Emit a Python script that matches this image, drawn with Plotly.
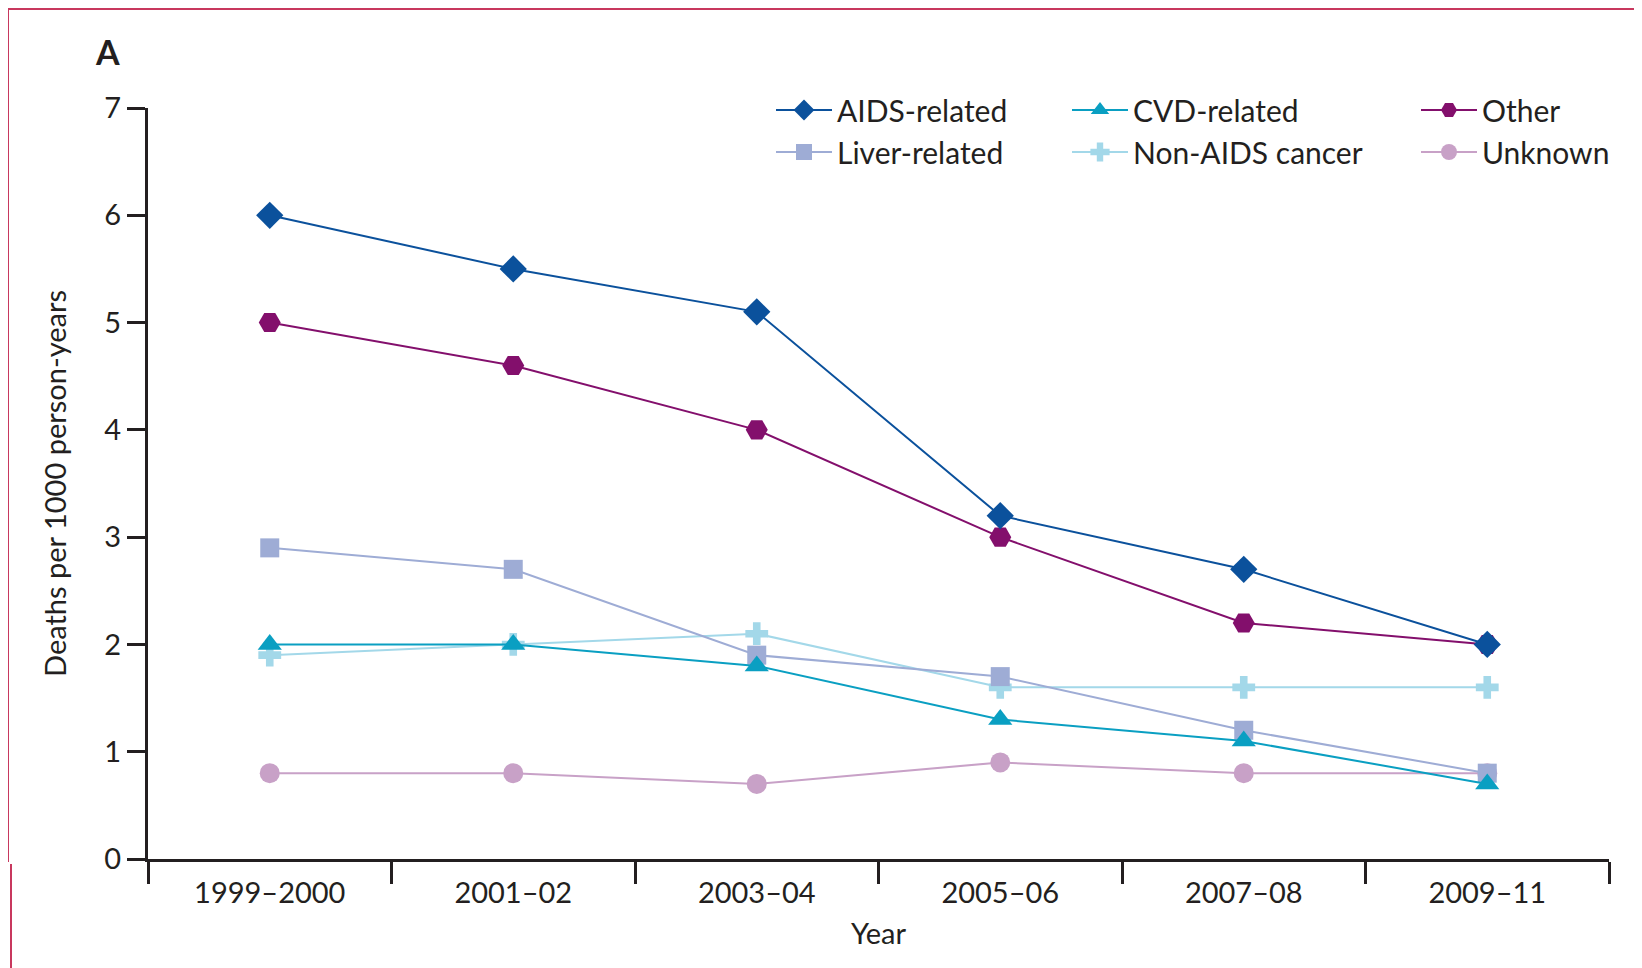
import plotly.graph_objects as go

periods = ["1999–2000", "2001–02", "2003–04", "2005–06", "2007–08", "2009–11"]

aids_related = [6.0, 5.5, 5.1, 3.2, 2.7, 2.0]
cvd_related = [2.0, 2.0, 1.8, 1.3, 1.1, 0.7]
other = [5.0, 4.6, 4.0, 3.0, 2.2, 2.0]
liver_related = [2.9, 2.7, 1.9, 1.7, 1.2, 0.8]
non_aids_cancer = [1.9, 2.0, 2.1, 1.6, 1.6, 1.6]
unknown = [0.8, 0.8, 0.7, 0.9, 0.8, 0.8]

OFF = 8  # page body margin
W, H = 1642 - OFF, 968 - OFF
# plot area in reference pixel coordinates
X0, X1, Y0, Y1 = 148, 1609, 108, 859
L, T = X0 - OFF, Y0 - OFF
R, B = W - (X1 - OFF), H - (Y1 - OFF)
PW, PH = W - L - R, H - T - B


def px(x):
    return (x - OFF - L) / PW


def py(y):
    return 1 - (y - OFF - T) / PH


FONT = "Lato"
TXT = "#231f20"

series = [
    ("AIDS-related", aids_related, "#0b519c", "diamond", 21, "legend"),
    ("Liver-related", liver_related, "#9eacd5", "square", 19, "legend"),
    ("CVD-related", cvd_related, "#0a9fc2", "triangle-up", 21, "legend2"),
    ("Non-AIDS cancer", non_aids_cancer, "#a3d8e9", "cross", 19, "legend2"),
    ("Other", other, "#830f6c", "hexagon2", 22, "legend3"),
    ("Unknown", unknown, "#c8a1c7", "circle", 20, "legend3"),
]
ranks = {"AIDS-related": 1, "Liver-related": 2, "CVD-related": 1,
         "Non-AIDS cancer": 2, "Other": 1, "Unknown": 2}

draw_order = ["Unknown", "Non-AIDS cancer", "Liver-related", "CVD-related", "Other", "AIDS-related"]
fig = go.Figure()
lookup = {s[0]: s for s in series}
for name in draw_order:
    n, vals, col, sym, sz, lg = lookup[name]
    fig.add_trace(go.Scatter(
        x=periods, y=vals, name=n, mode="lines+markers",
        line=dict(color=col, width=2),
        marker=dict(symbol=sym, size=sz, color=col, line=dict(width=0)),
        legend=lg, legendrank=ranks[n],
    ))

legend_common = dict(
    orientation="v", xanchor="left", yanchor="top",
    font=dict(family=FONT, size=30, color=TXT),
    bgcolor="rgba(0,0,0,0)", tracegroupgap=0, itemwidth=56,
    itemsizing="trace",
)

fig.update_layout(
    width=W, height=H,
    margin=dict(l=L, r=R, t=T, b=B),
    paper_bgcolor="white", plot_bgcolor="white",
    font=dict(family=FONT, size=28, color=TXT),
    showlegend=True,
    legend=dict(x=px(771), y=py(84), **legend_common),
    legend2=dict(x=px(1067), y=py(84), **legend_common),
    legend3=dict(x=px(1416), y=py(84), **legend_common),
    xaxis=dict(
        type="category", range=[-0.5, 5.5], showgrid=False, zeroline=False,
        showline=True, linecolor=TXT, linewidth=3,
        ticks="outside", tickson="boundaries", ticklen=22, tickwidth=3, tickcolor=TXT,
        tickfont=dict(family=FONT, size=29, color=TXT), ticklabelstandoff=6,
        title=dict(text="Year", font=dict(family=FONT, size=29, color=TXT), standoff=16),
    ),
    yaxis=dict(
        range=[0, 7], tickvals=[0, 1, 2, 3, 4, 5, 6, 7], showgrid=False, zeroline=False,
        showline=True, linecolor=TXT, linewidth=3,
        ticks="outside", ticklen=18, tickwidth=3, tickcolor=TXT,
        tickfont=dict(family=FONT, size=29, color=TXT),
        title=dict(text="Deaths per 1000 person-years", font=dict(family=FONT, size=29, color=TXT), standoff=30),
    ),
)

fig.add_annotation(text="<b>A</b>", x=px(107), y=py(52), xref="paper", yref="paper",
                   showarrow=False, font=dict(family=FONT, size=34, color=TXT),
                   xanchor="center", yanchor="middle")

border = "#c8385e"
fig.add_shape(type="line", xref="paper", yref="paper", x0=px(8), x1=px(1636), y0=py(9), y1=py(9),
              line=dict(color=border, width=2))
fig.add_shape(type="line", xref="paper", yref="paper", x0=px(1636), x1=px(1636), y0=py(9), y1=py(968),
              line=dict(color=border, width=2))
fig.add_shape(type="line", xref="paper", yref="paper", x0=px(8), x1=px(8), y0=py(9), y1=py(862),
              line=dict(color=border, width=2))
fig.add_shape(type="line", xref="paper", yref="paper", x0=px(11), x1=px(11), y0=py(864), y1=py(968),
              line=dict(color=border, width=2))

fig.write_html("out.html")
